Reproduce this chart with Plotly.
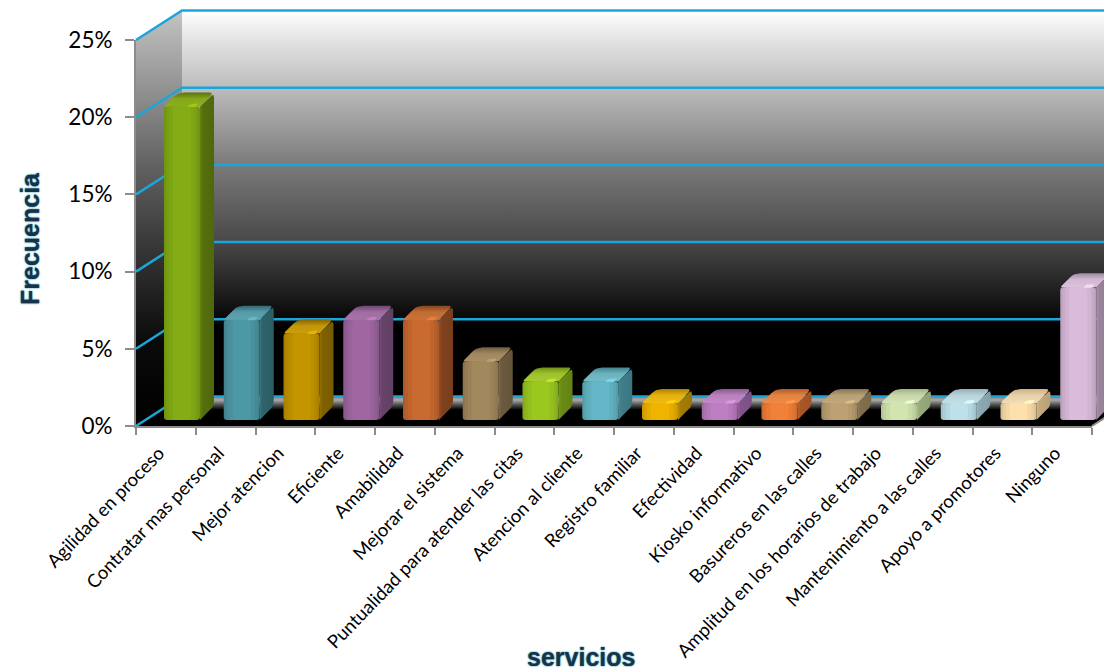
import plotly.graph_objects as go

# ---------- data ----------
categories = ["Agilidad en proceso", "Contratar mas personal", "Mejor atencion", "Eficiente",
              "Amabilidad", "Mejorar el sistema", "Puntualidad para atender las citas",
              "Atencion al cliente", "Registro familiar", "Efectividad", "Kiosko informativo",
              "Basureros en las calles", "Amplitud en los horarios de trabajo",
              "Mantenimiento a las calles", "Apoyo a promotores", "Ninguno"]
values = [20.3, 6.5, 5.6, 6.5, 6.5, 3.8, 2.5, 2.5, 1.1, 1.1, 1.1, 1.1, 1.1, 1.1, 1.1, 8.6]
y_ticks = [0, 5, 10, 15, 20, 25]
y_tick_labels = ["0%", "5%", "10%", "15%", "20%", "25%"]

# ---------- styles ----------
front = ["#7ea514", "#4a919e", "#bb8e00", "#98629a", "#c0652e", "#9b8259", "#94bf1e", "#5fafbd",
         "#e5ac00", "#b578b8", "#e67a36", "#b59a6e", "#c8dba6", "#b5d6df", "#f2d6a4", "#d1b3d2"]
side = ["#556e0e", "#2f626b", "#7f6100", "#67436a", "#7f421d", "#6a5a3e", "#6a8a15", "#3f7d88",
        "#a57c00", "#82558a", "#a85825", "#80704f", "#97aa7c", "#8ca9b3", "#c4a97d", "#9a839c"]
cap = ["#8cb01a", "#5aa4b0", "#cc9f0a", "#a872aa", "#cc7236", "#a98f66", "#a6cc30", "#72bcc9",
       "#f0bb10", "#c488c8", "#ef8a45", "#c2a87c", "#d3e3b5", "#c3dfe6", "#f3dcb3", "#dcc2dc"]
GRID = "#1ba6da"
AXIS = "#8c8c8c"
W, H = 1114, 670
UX, UY = 59.75, 15.44            # pixels per category / per percent
X0, Y0 = 136, 426                # front-left corner of the 3-D box, pixels
CLIP = 1104
DX, DY = 46 / UX, 29.5 / UY      # depth of the box
BASE = 6 / UY                    # bars stand a little behind the front edge
BW = 36 / UX                     # front-face width of a bar
BC = 46 / UX                     # centre of the face inside its category
BDX, BDY = 14 / UX, 14 / UY      # depth of a bar
N = len(categories)


def shade(c, f):
    r, g, b = int(c[1:3], 16), int(c[3:5], 16), int(c[5:7], 16)
    return "rgb(%d,%d,%d)" % (min(255, r * f), min(255, g * f), min(255, b * f))


def rounded(verts, radii):
    """Outline of a polygon whose corners are softened by the given pixel radii."""
    xs, ys = [], []
    n = len(verts)
    for k, (vx, vy) in enumerate(verts):
        r = radii[k]
        if r <= 0:
            xs.append(vx)
            ys.append(vy)
            continue
        px, py = verts[k - 1]
        nx, ny = verts[(k + 1) % n]
        def toward(ax, ay):
            d = (((ax - vx) * UX) ** 2 + ((ay - vy) * UY) ** 2) ** 0.5
            t = min(r / d, 0.5) if d else 0
            return vx + (ax - vx) * t, vy + (ay - vy) * t
        ax, ay = toward(px, py)
        bx, by = toward(nx, ny)
        for t in (0, 0.25, 0.5, 0.75, 1):
            xs.append((1 - t) ** 2 * ax + 2 * t * (1 - t) * vx + t ** 2 * bx)
            ys.append((1 - t) ** 2 * ay + 2 * t * (1 - t) * vy + t ** 2 * by)
    return xs + xs[:1], ys + ys[:1]


fig = go.Figure()


def poly(xs, ys, color=None, axes=("x", "y"), grad=None, line=None):
    kw = dict(x=xs, y=ys, mode="lines", fill="toself", hoverinfo="skip", showlegend=False,
              xaxis=axes[0], yaxis=axes[1], line=dict(width=0) if line is None else line)
    if grad:
        kw["fillgradient"] = grad
    else:
        kw["fillcolor"] = color
    fig.add_trace(go.Scatter(**kw))


# back wall
poly([DX, N + DX, N + DX, DX, DX], [DY, DY, 25 + DY, 25 + DY, DY],
     grad=dict(type="vertical", start=DY, stop=25 + DY,
               colorscale=[[0, "#000000"], [0.18, "#000000"], [0.4, "#484848"], [0.6, "#7a7a7a"],
                           [0.8, "#bcbcbc"], [0.92, "#e2e2e2"], [1, "#ffffff"]]))
# left wall
poly([0, DX, DX, 0, 0], [0, DY, 25 + DY, 25, 0],
     grad=dict(type="vertical", start=0, stop=25 + DY,
               colorscale=[[0, "#000000"], [0.2, "#0a0a0a"], [0.42, "#353535"], [0.62, "#606060"],
                           [0.85, "#9c9c9c"], [1, "#c4c4c4"]]))
# floor
poly([0, N, N + DX, DX, 0], [0, 0, DY, DY, 0],
     grad=dict(type="vertical", start=0, stop=DY,
               colorscale=[[0, "#000000"], [0.55, "#000000"], [0.72, "#505050"],
                           [0.88, "#aaaaaa"], [1, "#808080"]]))
# grid lines on the walls
for v in y_ticks:
    fig.add_trace(go.Scatter(x=[0, DX, N + DX], y=[v, v + DY, v + DY], mode="lines",
                             line=dict(color=GRID, width=2.5), hoverinfo="skip", showlegend=False,
                             xaxis="x", yaxis="y"))
# right floor edge
fig.add_trace(go.Scatter(x=[N, N + DX], y=[0, DY], mode="lines", line=dict(color=AXIS, width=2),
                         hoverinfo="skip", showlegend=False, xaxis="x", yaxis="y"))

# bars: real bar traces with soft horizontal banding, then depth faces
pos = [i + BC for i in range(N)]
for wf, lf in [(1.0, 0.9), (0.88, 0.96), (0.72, 1.0), (0.5, 1.05)]:
    fig.add_trace(go.Bar(x=pos, y=values, base=[BASE] * N, width=BW * wf,
                         marker=dict(color=[shade(c, lf) for c in front], line=dict(width=0),
                                     cornerradius=3),
                         hoverinfo="skip", showlegend=False, xaxis="x2", yaxis="y2"))
for p, v, fc, sc, cc in zip(pos, values, front, side, cap):
    L, R = p - BW / 2, p + BW / 2
    top = BASE + v
    sx, sy = rounded([(R, BASE), (R + BDX, BASE + BDY), (R + BDX, top + BDY * 0.95), (R, top)],
                     [0, 5, 4, 0])
    poly(sx, sy, axes=("x2", "y2"),
         grad=dict(type="horizontal", start=R - 2 / UX, stop=R + BDX,
                   colorscale=[[0, shade(fc, 0.9)], [0.3, sc], [1, shade(sc, 0.95)]]))
    cx, cy = rounded([(L, top), (R, top), (R + BDX, top + BDY), (L + BDX, top + BDY)],
                     [2, 0, 5, 6])
    poly(cx, cy, axes=("x2", "y2"),
         grad=dict(type="vertical", start=top, stop=top + BDY,
                   colorscale=[[0, shade(cc, 1.0)], [0.55, shade(cc, 0.95)], [1, shade(sc, 1.05)]]))
    # small glint on the front edge of the cap
    hx, hy = rounded([(R - 13 / UX, top - 0.5 / UY), (R - 4 / UX, top - 0.5 / UY),
                      (R - 2 / UX, top + 3 / UY), (R - 9 / UX, top + 3 / UY)], [1, 1, 1, 1])
    poly(hx, hy, shade(cc, 1.13), axes=("x2", "y2"))

# rotated labels and ticks
fig.update_layout(
    width=W, height=H, margin=dict(l=0, r=0, t=0, b=0), autosize=False,
    paper_bgcolor="white", plot_bgcolor="rgba(0,0,0,0)", barmode="overlay", showlegend=False,
    font=dict(family="Lato", color="black"),
    xaxis=dict(domain=[0, CLIP / W], range=[-X0 / UX, (CLIP - X0) / UX], visible=False, fixedrange=True, automargin=False),
    yaxis=dict(domain=[0, 1], range=[(Y0 - H) / UY, Y0 / UY], visible=False, fixedrange=True, automargin=False),
    xaxis2=dict(overlaying="x", range=[-X0 / UX, (CLIP - X0) / UX], visible=False, fixedrange=True, automargin=False),
    yaxis2=dict(overlaying="y", range=[(Y0 - H) / UY, Y0 / UY], visible=False, fixedrange=True, automargin=False),
    xaxis3=dict(domain=[X0 / W, (X0 + N * UX) / W], anchor="y3", range=[0, N], automargin=False,
                tickmode="array", tickvals=[i + 0.5 for i in range(N)], ticktext=categories,
                tickangle=-46, tickfont=dict(size=18.5, family="Lato"), ticks="", showgrid=False,
                zeroline=False, showline=True, linecolor=AXIS, linewidth=2, fixedrange=True,
                ticklabelstandoff=7, ticklabelshift=-7,
                minor=dict(tickmode="array", tickvals=list(range(N + 1)), ticks="outside",
                           ticklen=7, tickcolor=AXIS, tickwidth=2, showgrid=False)),
    yaxis3=dict(domain=[(H - Y0) / H, (H - 40) / H], anchor="x3", range=[0, 25], automargin=False,
                tickmode="array", tickvals=y_ticks, ticktext=y_tick_labels,
                tickfont=dict(size=22.5, family="Lato"), ticks="outside", ticklen=9, tickwidth=2,
                tickcolor=AXIS, showgrid=False, zeroline=False, showline=True, linecolor=AXIS,
                linewidth=2, ticklabelstandoff=8, fixedrange=True),
    annotations=[
        dict(text="<b>Frecuencia</b>", x=30 / W, y=1 - 239 / H, xref="paper", yref="paper",
             xanchor="center", yanchor="middle", textangle=-90, showarrow=False,
             font=dict(family="Liberation Sans", size=25, color="#17324a",
                       shadow="0 0 2px #3a98a8, 0 0 1px #3a98a8")),
        dict(text="<b>servicios</b>", x=581 / W, y=1 - 657 / H, xref="paper", yref="paper",
             xanchor="center", yanchor="middle", showarrow=False,
             font=dict(family="Liberation Sans", size=25, color="#17324a",
                       shadow="0 0 2px #3a98a8, 0 0 1px #3a98a8")),
    ],
)
# empty trace so the tick axes exist
fig.add_trace(go.Scatter(x=[0], y=[0], mode="markers", marker=dict(opacity=0), hoverinfo="skip",
                         showlegend=False, xaxis="x3", yaxis="y3"))

fig.write_html("out.html", config=dict(displayModeBar=False),
               post_script="document.body.style.margin='0';document.body.style.overflow='hidden';")
